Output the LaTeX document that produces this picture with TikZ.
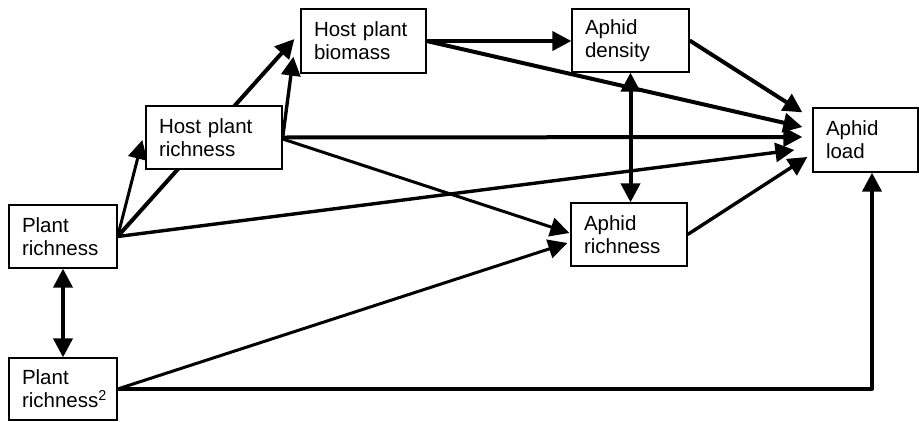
\documentclass[tikz,border=0pt]{standalone}
\usepackage{fontspec}
\setmainfont{Liberation Sans}
\usetikzlibrary{arrows.meta,backgrounds}
\begin{document}
\begin{tikzpicture}[x=1pt,y=-1pt,
  box/.style={draw=drawColor,fill=white,line width=1.3pt,align=left,
    inner xsep=13pt,inner ysep=0pt,minimum height=63pt,
    font=\fontsize{20.5}{23}\selectfont},
  link/.style={draw=drawColor,line width=4pt,line join=round,
    -{Triangle[length=19pt,width=19pt]}},
  thinlink/.style={link,line width=3pt},
  bothlink/.style={link,{Triangle[length=19pt,width=19pt]}-{Triangle[length=19pt,width=19pt]}}]
\definecolor{drawColor}{RGB}{0,0,0}
\path[use as bounding box] (0,0) rectangle (919,421);

\node[box,text width=82pt] (pr) at (63,236.5) {Plant\\richness};
\node[box,text width=82pt,minimum height=62pt] (prsq) at (63,389) {Plant\\richness\textsuperscript{2}};
\node[box,text width=110pt] (hpr) at (214,137.5) {Host plant\\richness};
\node[box,text width=99pt,minimum height=64pt] (hpb) at (363.5,41) {Host plant\\biomass};
\node[box,text width=91pt] (ad) at (630.5,40.5) {Aphid\\density};
\node[box,text width=90pt] (ar) at (629,234.5) {Aphid\\richness};
\node[box,text width=79pt,minimum height=64pt] (al) at (865.5,140) {Aphid\\load};

\begin{scope}[on background layer]
\draw[thinlink] (pr.east) -- ([xshift=-3pt,yshift=-2.5pt]hpr.west);
\draw[link] (pr.east) -- ([xshift=-6pt,yshift=2pt]hpb.west);
\draw[thinlink,line width=3.4pt] (pr.east) -- ([xshift=-18pt,yshift=-10pt]al.west);
\draw[thinlink,line width=3.4pt] (hpr.east) -- ([xshift=-7pt,yshift=17pt]hpb.south west);
\draw[link] (hpr.east) -- ([xshift=-10pt,yshift=3pt]al.west);
\draw[thinlink] ([yshift=-1.5pt]hpr.east) -- ([xshift=-1pt,yshift=1.5pt]ar.west);
\draw[link] (hpb.east) -- (hpb.east -| ad.west);
\draw[link] (hpb.east) -- ([xshift=-10pt,yshift=13pt]al.west);
\draw[link] (ad.east) -- ([xshift=-10pt,yshift=-5pt]al.north west);
\draw[bothlink] (ad.south) -- (ad.south |- ar.north);
\draw[thinlink,line width=3.4pt] (ar.east) -- ([xshift=-5pt,yshift=-17pt]al.west);
\draw[bothlink] (pr.south) -- (prsq.north);
\draw[thinlink] (prsq.east) -- ([xshift=-3pt,yshift=-8.5pt]ar.west);
\draw[link] (prsq.east) -| ([xshift=6.5pt]al.south);
\end{scope}
\end{tikzpicture}
\end{document}
